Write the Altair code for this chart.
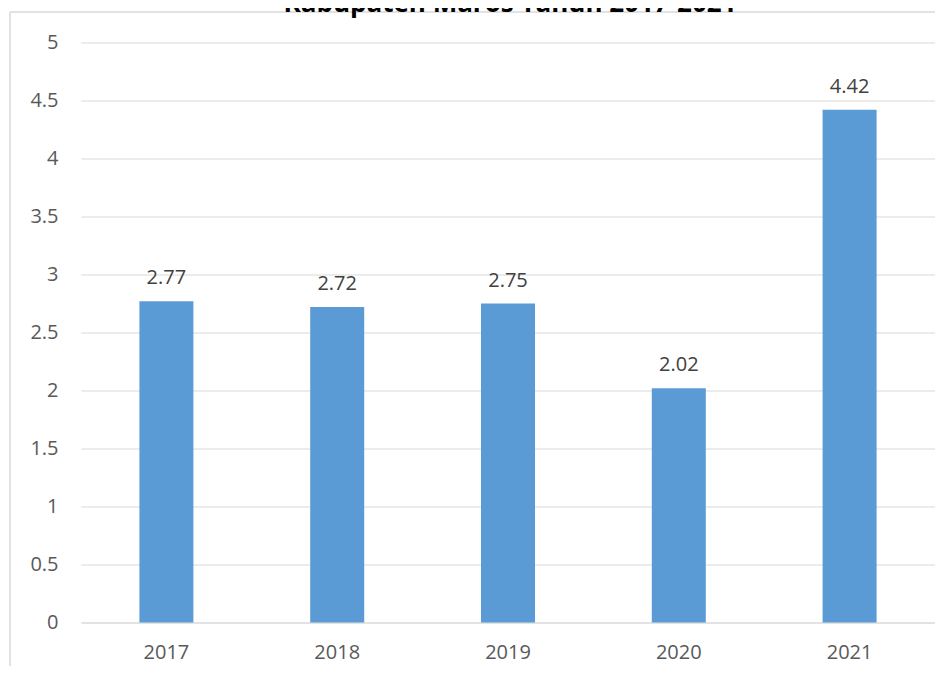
import altair as alt
import pandas as pd

years = ["2017", "2018", "2019", "2020", "2021"]
values = [2.77, 2.72, 2.75, 2.02, 4.42]
y_ticks = [0, 0.5, 1, 1.5, 2, 2.5, 3, 3.5, 4, 4.5, 5]
title_text = "Kabupaten Maros Tahun 2017-2021"

df = pd.DataFrame({"year": years, "value": values})

FONT = "Open Sans"
GRID = "#d9d9d9"

base = alt.Chart(df).encode(
    x=alt.X(
        "year:N",
        sort=years,
        scale=alt.Scale(paddingInner=0, paddingOuter=0),
        axis=alt.Axis(
            title=None, labelAngle=0, ticks=False, domainColor=GRID,
            labelFontSize=20, labelColor="#595959", labelFont=FONT,
            labelPadding=20,
        ),
    ),
    y=alt.Y(
        "value:Q",
        scale=alt.Scale(domain=[0, 5], nice=False),
        axis=alt.Axis(
            title=None, values=y_ticks, format="~g", ticks=False, domain=False,
            gridColor=GRID, labelFontSize=20, labelColor="#595959",
            labelFont=FONT, labelPadding=23,
        ),
    ),
)

bars = base.mark_bar(size=54, color="#5b9bd5")
labels = base.mark_text(
    dy=-17, baseline="alphabetic", fontSize=20, color="#404040", font=FONT
).encode(text=alt.Text("value:Q", format=".2f"))

tdf = pd.DataFrame({"t": [title_text]})
title = alt.Chart(tdf).mark_text(
    fontSize=26, fontWeight="bold", color="#000000", font=FONT,
    align="center", baseline="alphabetic"
).encode(text="t:N", x=alt.value(429), y=alt.value(-31))

border_top = alt.Chart(tdf).mark_rule(color=GRID, strokeWidth=1.5).encode(
    x=alt.value(-71), x2=alt.value(900), y=alt.value(-30.5)
)
border_left = alt.Chart(tdf).mark_rule(color=GRID, strokeWidth=1.5).encode(
    x=alt.value(-71), y=alt.value(-30.5), y2=alt.value(700)
)

chart = (
    alt.layer(border_top, border_left, bars, labels, title)
    .properties(
        width=854,
        height=580,
        padding={"left": 73, "top": 34.5, "right": 0, "bottom": 43},
        autosize=alt.AutoSizeParams(type="none"),
    )
    .configure_view(stroke=None)
)

chart.save("out.html", embed_options={"renderer": "svg", "actions": False})
